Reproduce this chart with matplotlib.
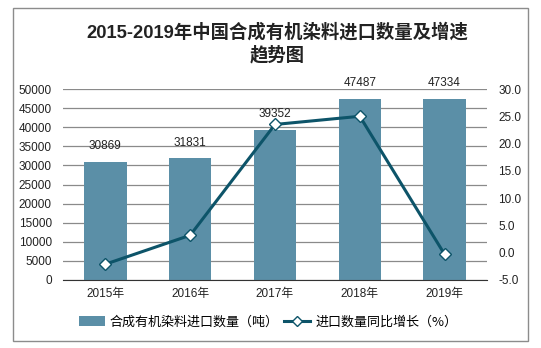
import matplotlib
matplotlib.use("Agg")
import matplotlib.pyplot as plt
from matplotlib.lines import Line2D
from matplotlib.patches import Patch, Rectangle

plt.rcParams["font.family"] = ["Liberation Sans", "Noto Sans CJK SC", "DejaVu Sans"]

years = ["2015年", "2016年", "2017年", "2018年", "2019年"]
volume = [30869, 31831, 39352, 47487, 47334]     # 吨
growth = [-2.1, 3.2, 23.5, 25.0, -0.3]           # %

BAR_COLOR = "#5b8fa7"
LINE_COLOR = "#0d5469"
TEXT_COLOR = "#222222"

fig = plt.figure(figsize=(5.41, 3.48), dpi=100)
fig.patches.append(Rectangle((13 / 541, 1 - 341 / 348), 515 / 541, 333 / 348,
                             transform=fig.transFigure, fill=False,
                             edgecolor="#8c8c8c", lw=1.0))

ax = fig.add_axes([63 / 541, 1 - 280 / 348, 424 / 541, 191 / 348])
x = range(len(years))
bars = ax.bar(x, volume, width=0.5, color=BAR_COLOR, zorder=2)
for xi, v in zip(x, volume):
    ax.annotate(f"{v}", (xi, v), xytext=(0, 7), textcoords="offset points",
                ha="center", va="bottom", fontsize=8.5, color=TEXT_COLOR)

ax.set_xlim(-0.5, len(years) - 0.5)
ax.set_ylim(0, 50000)
ax.set_yticks(range(0, 50001, 5000))
ax.set_xticks(list(x))
ax.set_xticklabels(years)
ax.yaxis.grid(True, color="#8a8a8a", lw=0.9, zorder=0)
ax.set_axisbelow(True)
for s in ("left", "right", "top"):
    ax.spines[s].set_visible(False)
ax.spines["bottom"].set_color("#333333")
ax.tick_params(axis="both", length=0, labelsize=8.5, colors=TEXT_COLOR)
ax.tick_params(axis="y", pad=8)
ax.tick_params(axis="x", pad=6)

ax2 = ax.twinx()
ax2.plot(x, growth, color=LINE_COLOR, lw=2.2, marker="D", markersize=6,
         markerfacecolor="white", markeredgecolor=LINE_COLOR, markeredgewidth=1,
         zorder=3)
ax2.set_ylim(-5, 30)
ax2.set_yticks(range(-5, 31, 5))
ax2.set_yticklabels([f"{t:.1f}" for t in range(-5, 31, 5)])
for s in ax2.spines.values():
    s.set_visible(False)
ax2.tick_params(axis="y", length=0, labelsize=8.5, colors=TEXT_COLOR, pad=8)

fig.text(277 / 541, 1 - 32 / 348, "2015-2019年中国合成有机染料进口数量及增速",
         ha="center", va="center", fontsize=13.2, fontweight="bold", color=TEXT_COLOR)
fig.text(277 / 541, 1 - 55 / 348, "趋势图",
         ha="center", va="center", fontsize=13.2, fontweight="bold", color=TEXT_COLOR)

handles = [
    Patch(facecolor=BAR_COLOR, edgecolor="none"),
    Line2D([0], [0], color=LINE_COLOR, lw=2.2, marker="D", markersize=5,
           markerfacecolor="white", markeredgecolor=LINE_COLOR),
]
labels = ["合成有机染料进口数量（吨）", "进口数量同比增长（%）"]
fig.legend(handles, labels, loc="center", bbox_to_anchor=(268 / 541, 1 - 322 / 348),
           ncol=2, frameon=False, handlelength=2.0,
           handletextpad=0.4, columnspacing=0.4,
           prop={"family": ["Noto Sans CJK SC", "DejaVu Sans"], "size": 9.4})

fig.savefig("out.png", dpi=100)
